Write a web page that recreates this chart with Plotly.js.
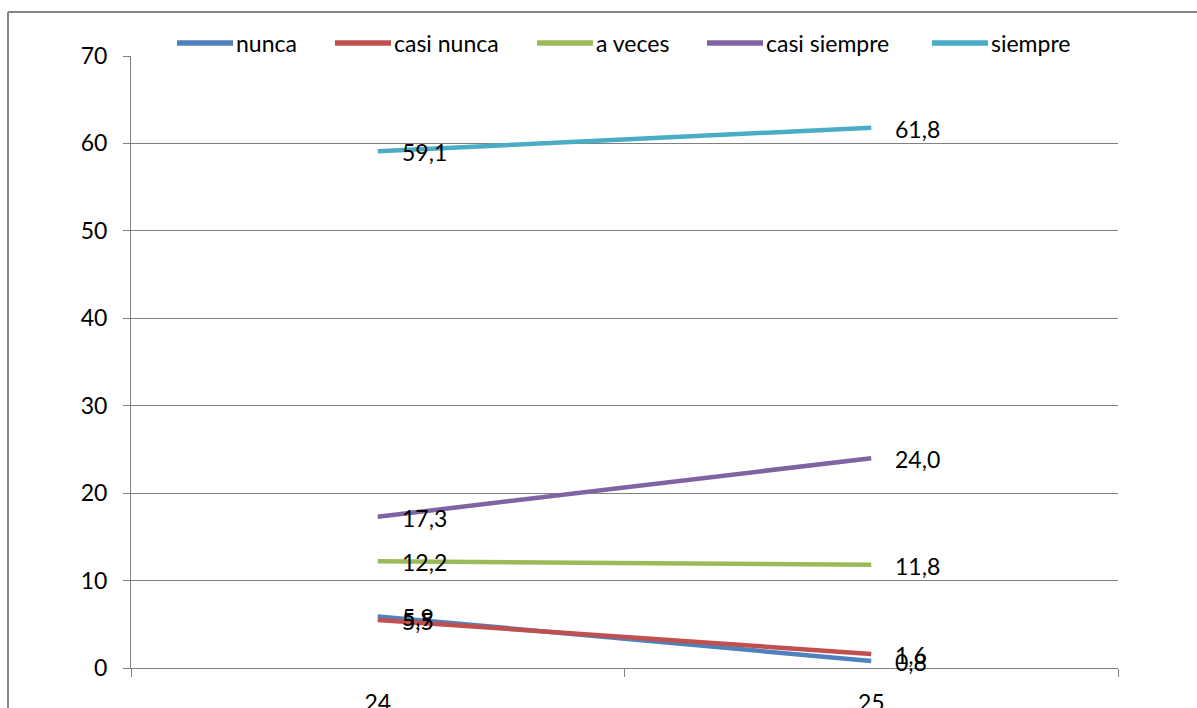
<!DOCTYPE html>
<html>
<head>
<meta charset="utf-8">
<script src="https://cdn.plot.ly/plotly-3.0.1.min.js"></script>
<style>html,body{margin:0;padding:0;background:#fff;}#chart{width:1197px;height:708px;}</style>
</head>
<body>
<div id="chart"></div>
<script>
const categories = ['24', '25'];
const seriesNames = ['nunca', 'casi nunca', 'a veces', 'casi siempre', 'siempre'];
const nunca = [5.9, 0.8];
const casiNunca = [5.5, 1.6];
const aVeces = [12.2, 11.8];
const casiSiempre = [17.3, 24.0];
const siempre = [59.1, 61.8];
const yTicks = [0, 10, 20, 30, 40, 50, 60, 70];

const seriesValues = [nunca, casiNunca, aVeces, casiSiempre, siempre];
const colors = ['#4F81BD', '#C0504D', '#9BBB59', '#8064A2', '#4BACC6'];

const W = 1197, H = 708;
const M = {l: 131, r: 79, t: 56, b: 40};
const PW = W - M.l - M.r, PH = H - M.t - M.b;
const px2x = p => (p - M.l) / PW;
const py2y = p => (H - M.b - p) / PH;
const FONT = 'Lato, "Open Sans", sans-serif';
const FS = 23;

const traces = seriesValues.map((vals, i) => ({
  type: 'scatter', mode: 'lines', name: seriesNames[i],
  x: categories, y: vals,
  line: {color: colors[i], width: 4.5},
  showlegend: false, hoverinfo: 'skip'
}));

const fmt = v => v.toFixed(1).replace('.', ',');
const annotations = [];
seriesValues.forEach((vals, i) => {
  vals.forEach((v, j) => {
    annotations.push({
      x: j, y: v, xref: 'x', yref: 'y',
      text: fmt(v), showarrow: false, xanchor: 'left', yanchor: 'middle',
      xshift: 22, yshift: -1,
      font: {family: FONT, size: FS, color: '#000'}
    });
  });
});

// custom legend
const legendStart = [177, 335, 537, 707, 932];
const legendLineLen = 56;
const legendY = 43;
const shapes = [];
seriesNames.forEach((n, i) => {
  shapes.push({type: 'line', xref: 'paper', yref: 'paper',
    x0: px2x(legendStart[i]), x1: px2x(legendStart[i] + legendLineLen),
    y0: py2y(legendY), y1: py2y(legendY),
    line: {color: colors[i], width: 5.5}});
  annotations.push({xref: 'paper', yref: 'paper', x: px2x(legendStart[i] + legendLineLen + 1),
    y: py2y(legendY), text: n, showarrow: false, xanchor: 'left', yanchor: 'middle',
    yshift: 0,
    font: {family: FONT, size: FS, color: '#000'}});
});
// outer frame (top and left edges)
shapes.push({type: 'line', xref: 'paper', yref: 'paper', x0: px2x(8), x1: px2x(1210),
  y0: py2y(12), y1: py2y(12), line: {color: '#868686', width: 2}});
shapes.push({type: 'line', xref: 'paper', yref: 'paper', x0: px2x(8), x1: px2x(8),
  y0: py2y(12), y1: py2y(720), line: {color: '#868686', width: 2}});

const layout = {
  width: W, height: H,
  margin: {l: M.l, r: M.r, t: M.t, b: M.b, pad: 0},
  paper_bgcolor: '#fff', plot_bgcolor: '#fff',
  showlegend: false,
  font: {family: FONT, size: FS, color: '#000'},
  xaxis: {
    type: 'category', range: [-0.5, 1.5], tickson: 'boundaries',
    ticks: 'outside', ticklen: 8, tickwidth: 1, tickcolor: '#808080',
    showline: true, linecolor: '#808080', linewidth: 1,
    showgrid: false, zeroline: false,
    ticklabelstandoff: 14,
    tickfont: {family: FONT, size: FS, color: '#000'}
  },
  yaxis: {
    range: [0, 70], tickvals: yTicks, ticktext: yTicks.map(String),
    ticks: 'outside', ticklen: 7, tickwidth: 1, tickcolor: '#808080',
    showline: true, linecolor: '#808080', linewidth: 1,
    showgrid: true, gridcolor: '#808080', gridwidth: 1, zeroline: false,
    ticklabelstandoff: 11,
    tickfont: {family: FONT, size: FS, color: '#000'}
  },
  shapes: shapes,
  annotations: annotations
};

Plotly.newPlot('chart', traces, layout, {displayModeBar: false, staticPlot: true});
</script>
</body>
</html>
